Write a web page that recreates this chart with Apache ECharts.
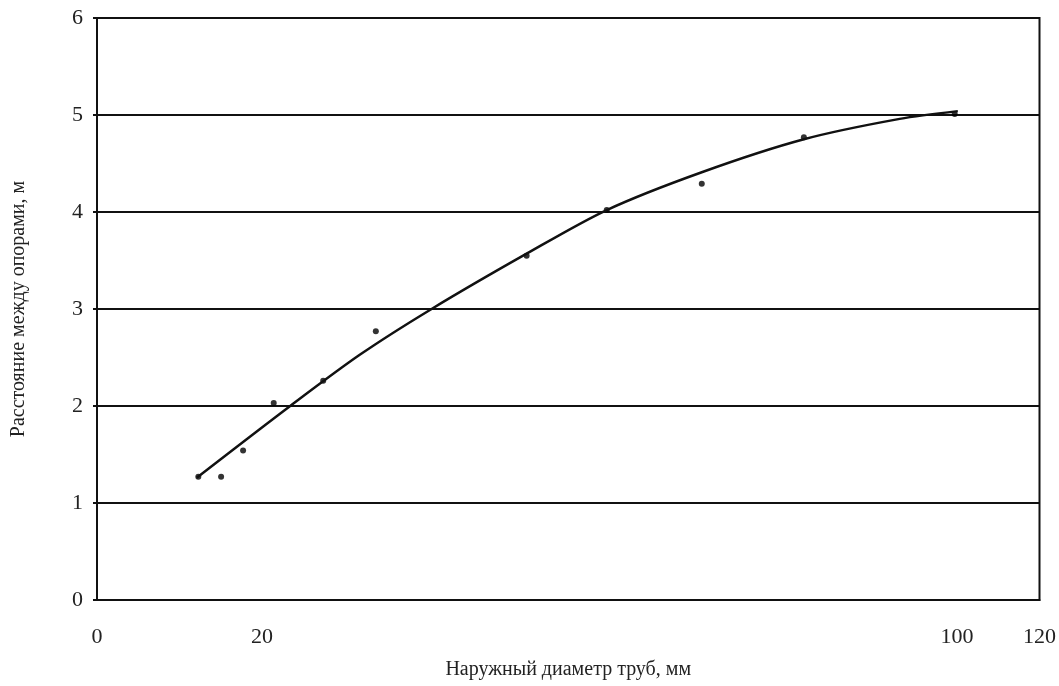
<!DOCTYPE html>
<html>
<head>
<meta charset="utf-8">
<script src="https://cdn.jsdelivr.net/npm/echarts@6/dist/echarts.min.js"></script>
<style>
  html, body { margin: 0; padding: 0; background: #fff; }
  #chart { width: 1059px; height: 686px; }
</style>
</head>
<body>
<div id="chart"></div>
<script>
// measured points (outer diameter, span)
var pointX = [12.9, 15.8, 18.6, 22.5, 28.8, 35.5, 54.7, 64.9, 77.0, 90.0, 109.2];
var pointY = [1.27, 1.27, 1.54, 2.03, 2.26, 2.77, 3.55, 4.02, 4.29, 4.77, 5.01];

// fitted curve
var curveX = [12.7, 24.6, 33.5, 42.6, 54.7, 64.9, 77.0, 90.0, 102.2, 109.6];
var curveY = [1.26, 2.0, 2.53, 3.0, 3.57, 4.02, 4.41, 4.75, 4.96, 5.04];

// x tick labels as printed (the scan's scale is uneven)
var xTickValues = [0, 21, 109.5, 120];
var xTickLabels = ['0', '20', '100', '120'];

var chartDom = document.getElementById('chart');
var myChart = echarts.init(chartDom);

var font = '"Liberation Serif", "DejaVu Serif", serif';

var option = {
    backgroundColor: '#fff',
    animation: false,
    grid: {
        left: 97, right: 19, top: 18, bottom: 86,
        show: true,
        borderColor: '#111',
        borderWidth: 2
    },
    xAxis: {
        type: 'value',
        min: 0,
        max: 120,
        name: 'Наружный диаметр труб, мм',
        nameLocation: 'middle',
        nameGap: 60,
        nameTextStyle: { fontFamily: font, fontSize: 20, color: '#222' },
        axisLine: { show: true, lineStyle: { color: '#111', width: 2 } },
        axisTick: { show: false },
        splitLine: { show: false },
        axisLabel: {
            customValues: xTickValues,
            margin: 26,
            fontFamily: font,
            fontSize: 22,
            color: '#222',
            formatter: function (v) {
                var i = xTickValues.indexOf(v);
                return i >= 0 ? xTickLabels[i] : '';
            }
        }
    },
    yAxis: {
        type: 'value',
        min: 0,
        max: 6,
        interval: 1,
        name: 'Расстояние между опорами, м',
        nameLocation: 'middle',
        nameGap: 68,
        nameTextStyle: { fontFamily: font, fontSize: 20, color: '#222' },
        axisLine: { show: true, lineStyle: { color: '#111', width: 2 } },
        axisTick: { show: true, inside: false, length: 4, lineStyle: { color: '#111', width: 2 } },
        splitLine: { show: true, lineStyle: { color: '#111', width: 2 } },
        axisLabel: {
            margin: 14,
            fontFamily: font,
            fontSize: 22,
            color: '#222'
        }
    },
    series: [
        {
            type: 'line',
            data: curveX.map(function (x, i) { return [x, curveY[i]]; }),
            smooth: 0.3,
            showSymbol: false,
            lineStyle: { color: '#111', width: 2.5 }
        },
        {
            type: 'scatter',
            data: pointX.map(function (x, i) { return [x, pointY[i]]; }),
            symbol: 'circle',
            symbolSize: 6,
            itemStyle: { color: '#000' }
        }
    ]
};

myChart.setOption(option);
</script>
</body>
</html>
